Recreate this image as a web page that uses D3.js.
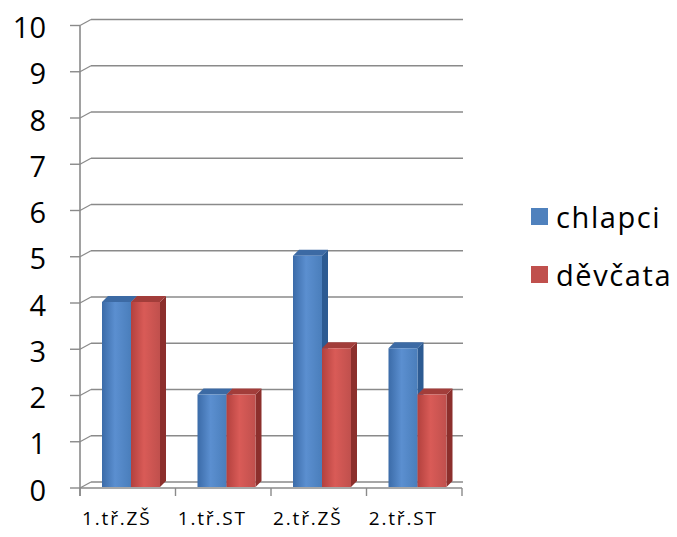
<!DOCTYPE html>
<html><head><meta charset="utf-8">
<script src="https://cdn.jsdelivr.net/npm/d3@7"></script>
<style>body{margin:0;background:#fff}svg{display:block}</style>
</head><body>
<script>
const categories = ["1.tř.ZŠ", "1.tř.ST", "2.tř.ZŠ", "2.tř.ST"];
const seriesNames = ["chlapci", "děvčata"];
const chlapci = [4, 2, 5, 3];
const devcata = [4, 2, 3, 2];
const yTicks = [0,1,2,3,4,5,6,7,8,9,10];

const W = 677, H = 537;
const FONT = "'Open Sans', 'Noto Sans', sans-serif";
const svg = d3.select("body").append("svg").attr("width", W).attr("height", H);

const x = d3.scaleBand().domain(categories).range([80, 462]).padding(0);
const y = d3.scaleLinear().domain([0, 10]).range([488, 25.5]);
const xs = d3.scaleBand().domain(seriesNames).range([22, 80]);
const WDX = 11, WDY = -6;   // wall depth
const BDX = 6, BDY = -6;    // bar depth

const colors = {
  "chlapci": {front: ["#3b6ba8", "#5b8fd0", "#4a7ebb"], side: "#2d5b92", top: "#3c6aa4", legend: "#4f81bd"},
  "děvčata": {front: ["#b3413e", "#d95b57", "#c0504d"], side: "#8c2f2c", top: "#a23d3a", legend: "#c0504d"}
};
const defs = svg.append("defs");
seriesNames.forEach((s, i) => {
  const g = defs.append("linearGradient").attr("id", "g" + i).attr("x1", 0).attr("x2", 1).attr("y1", 0).attr("y2", 0);
  g.append("stop").attr("offset", "0%").attr("stop-color", colors[s].front[0]);
  g.append("stop").attr("offset", "45%").attr("stop-color", colors[s].front[1]);
  g.append("stop").attr("offset", "100%").attr("stop-color", colors[s].front[2]);
});

const grid = svg.append("g");
const GC = "#8a8a8a";
// back gridlines
grid.selectAll("line.g").data(yTicks).join("line")
  .attr("x1", 80 + WDX).attr("x2", 463)
  .attr("y1", d => y(d) + WDY).attr("y2", d => y(d) + WDY)
  .attr("stroke", GC).attr("stroke-width", 1.6);
// diagonals on left wall
grid.selectAll("line.d").data(yTicks).join("line")
  .attr("x1", 80).attr("x2", 80 + WDX)
  .attr("y1", d => y(d)).attr("y2", d => y(d) + WDY)
  .attr("stroke", GC).attr("stroke-width", 1.2);
// front floor edge
grid.append("line").attr("x1", 80).attr("x2", 462).attr("y1", y(0)).attr("y2", y(0))
  .attr("stroke", GC).attr("stroke-width", 1.6);
// y axis
grid.append("line").attr("x1", 80).attr("x2", 80).attr("y1", y(10)).attr("y2", y(0) + 8)
  .attr("stroke", GC).attr("stroke-width", 1.6);
grid.selectAll("line.t").data(yTicks).join("line")
  .attr("x1", 70).attr("x2", 80)
  .attr("y1", d => y(d)).attr("y2", d => y(d))
  .attr("stroke", GC).attr("stroke-width", 1.4);
// category ticks
const bounds = categories.map(c => x(c)).concat([x.range()[1]]);
grid.selectAll("line.c").data(bounds).join("line")
  .attr("x1", d => d).attr("x2", d => d)
  .attr("y1", y(0)).attr("y2", y(0) + 8)
  .attr("stroke", GC).attr("stroke-width", 1.4);

// y labels
svg.append("g").selectAll("text").data(yTicks).join("text")
  .attr("x", 46).attr("y", d => y(d) + 1)
  .attr("text-anchor", "end").attr("dominant-baseline", "central")
  .attr("font-family", FONT).attr("font-size", 29).attr("fill", "#000")
  .text(d => d);

// x labels
svg.append("g").selectAll("text").data(categories).join("text")
  .attr("x", d => x(d) + x.bandwidth() / 2 - 11).attr("y", 518)
  .attr("text-anchor", "middle").attr("dominant-baseline", "central")
  .attr("font-family", FONT).attr("font-size", 19).attr("letter-spacing", 1.8).attr("fill", "#000")
  .text(d => d);

// bars
const data = categories.map((c, i) => ({c, vals: [{s: "chlapci", v: chlapci[i], i: 0}, {s: "děvčata", v: devcata[i], i: 1}]}));
const bars = svg.append("g");
data.forEach(d => {
  d.vals.forEach(b => {
    const x0 = x(d.c) + xs(b.s), w = xs.bandwidth();
    const yt = y(b.v) - 1, yb = y(0) - 1;
    const g = bars.append("g");
    g.append("polygon")
      .attr("points", [[x0 + w, yt], [x0 + w + BDX, yt + BDY], [x0 + w + BDX, yb + BDY], [x0 + w, yb]].map(p => p.join(",")).join(" "))
      .attr("fill", colors[b.s].side);
    g.append("polygon")
      .attr("points", [[x0, yt], [x0 + BDX, yt + BDY], [x0 + w + BDX, yt + BDY], [x0 + w, yt]].map(p => p.join(",")).join(" "))
      .attr("fill", colors[b.s].top);
    g.append("rect").attr("x", x0).attr("y", yt).attr("width", w).attr("height", yb - yt)
      .attr("fill", `url(#g${b.i})`);
  });
});

// legend
const leg = svg.append("g");
seriesNames.forEach((s, i) => {
  const cy = 216 + i * 58;
  leg.append("rect").attr("x", 531).attr("y", cy - 8).attr("width", 17).attr("height", 17)
    .attr("fill", colors[s].legend);
  leg.append("text").attr("x", 556).attr("y", cy).attr("dominant-baseline", "central")
    .attr("font-family", FONT).attr("font-size", 29).attr("letter-spacing", 1.6).attr("fill", "#000").text(s);
});
</script>
</body></html>
